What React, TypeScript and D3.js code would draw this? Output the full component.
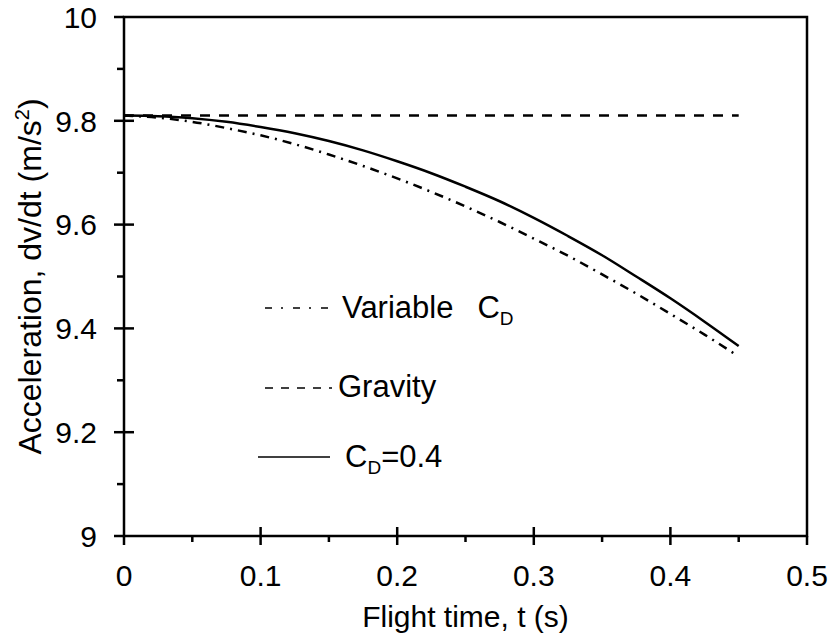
import React from "react";
import * as d3 from "d3";

const timeSolid = [0, 0.025, 0.05, 0.075, 0.1, 0.125, 0.15, 0.175, 0.2, 0.225, 0.25, 0.275, 0.3, 0.325, 0.35, 0.375, 0.4, 0.425, 0.45];
const cd04Values = [9.81, 9.809, 9.805, 9.798, 9.788, 9.776, 9.761, 9.743, 9.722, 9.699, 9.673, 9.645, 9.613, 9.578, 9.541, 9.5, 9.458, 9.413, 9.366];
const timeVariable = [0, 0.025, 0.05, 0.075, 0.1, 0.125, 0.15, 0.175, 0.2, 0.225, 0.25, 0.275, 0.3, 0.325, 0.35, 0.375, 0.4, 0.425, 0.447];
const variableCdValues = [9.81, 9.806, 9.798, 9.786, 9.772, 9.755, 9.735, 9.713, 9.689, 9.663, 9.635, 9.605, 9.573, 9.54, 9.504, 9.467, 9.428, 9.388, 9.351];
const timeGravity = [0, 0.45];
const gravityValues = [9.81, 9.81];

const xMajorTicks = [0, 0.1, 0.2, 0.3, 0.4, 0.5];
const xMinorTicks = [0.05, 0.15, 0.25, 0.35, 0.45];
const yMajorTicks = [9, 9.2, 9.4, 9.6, 9.8, 10];
const yMinorTicks = [9.1, 9.3, 9.5, 9.7, 9.9];

const FONT = "Arial, 'Liberation Sans', sans-serif";

export default function App() {
  const W = 833, H = 643;
  const left = 124, right = 807, top = 17, bottom = 536;
  const x = d3.scaleLinear().domain([0, 0.5]).range([left, right]);
  const y = d3.scaleLinear().domain([9, 10]).range([bottom, top]);
  const line = (ts: number[], vs: number[]) =>
    d3.line<number>().x((_, i) => x(ts[i])).y((v) => y(v)).curve(d3.curveMonotoneX)(vs) || "";

  return (
    <svg width={W} height={H} style={{ position: "absolute", left: 0, top: 0, background: "#fff" }} fontFamily={FONT}>
      <rect x={0} y={0} width={W} height={H} fill="#fff" />
      {/* curves */}
      <path d={line(timeGravity, gravityValues)} fill="none" stroke="#000" strokeWidth={2.5} strokeDasharray="10,9" />
      <path d={line(timeVariable, variableCdValues)} fill="none" stroke="#000" strokeWidth={2.5} strokeDasharray="9,6,2,6" />
      <path d={line(timeSolid, cd04Values)} fill="none" stroke="#000" strokeWidth={2.5} />

      {/* frame */}
      <rect x={left} y={top} width={right - left} height={bottom - top} fill="none" stroke="#000" strokeWidth={2.5} />

      {/* x ticks */}
      {xMajorTicks.map((t) => (
        <g key={"xm" + t}>
          <line x1={x(t)} x2={x(t)} y1={t === 0 || t === 0.5 ? bottom : bottom - 9} y2={bottom + 9} stroke="#000" strokeWidth={2.5} />
          <text x={x(t)} y={586} textAnchor="middle" fontSize={30}>{String(t)}</text>
        </g>
      ))}
      {xMinorTicks.map((t) => (
        <line key={"xn" + t} x1={x(t)} x2={x(t)} y1={bottom} y2={bottom + 6} stroke="#000" strokeWidth={2.5} />
      ))}

      {/* y ticks */}
      {yMajorTicks.map((v) => (
        <g key={"ym" + v}>
          <line x1={left - 10} x2={v === 9 || v === 10 ? left : left + 10} y1={y(v)} y2={y(v)} stroke="#000" strokeWidth={2.5} />
          <text x={97} y={y(v)} dy="0.36em" textAnchor="end" fontSize={30}>{String(v)}</text>
        </g>
      ))}
      {yMinorTicks.map((v) => (
        <line key={"yn" + v} x1={left - 7} x2={left} y1={y(v)} y2={y(v)} stroke="#000" strokeWidth={2.5} />
      ))}

      {/* axis titles */}
      <text x={(left + right) / 2} y={627} textAnchor="middle" fontSize={30}>Flight time, t (s)</text>
      <text transform={`translate(41, ${(top + bottom) / 2}) rotate(-90)`} textAnchor="middle" fontSize={32}>
        Acceleration, dv/dt (m/s<tspan fontSize={20} dy={-12}>2</tspan><tspan dy={12}>)</tspan>
      </text>

      {/* legend */}
      <line x1={265} x2={332} y1={308} y2={308} stroke="#000" strokeWidth={1.5} strokeDasharray="7,9,2,10" />
      <text x={342} y={318} fontSize={31}>
        Variable<tspan dx={24}>C</tspan><tspan fontSize={19} dy={7}>D</tspan>
      </text>
      <line x1={265} x2={332} y1={388} y2={388} stroke="#000" strokeWidth={1.5} strokeDasharray="8,8" />
      <text x={338} y={397} fontSize={31}>Gravity</text>
      <line x1={258} x2={330} y1={457} y2={457} stroke="#000" strokeWidth={1.5} />
      <text x={345} y={467} fontSize={31}>
        C<tspan fontSize={19} dy={7}>D</tspan><tspan dy={-7}>=0.4</tspan>
      </text>
    </svg>
  );
}
